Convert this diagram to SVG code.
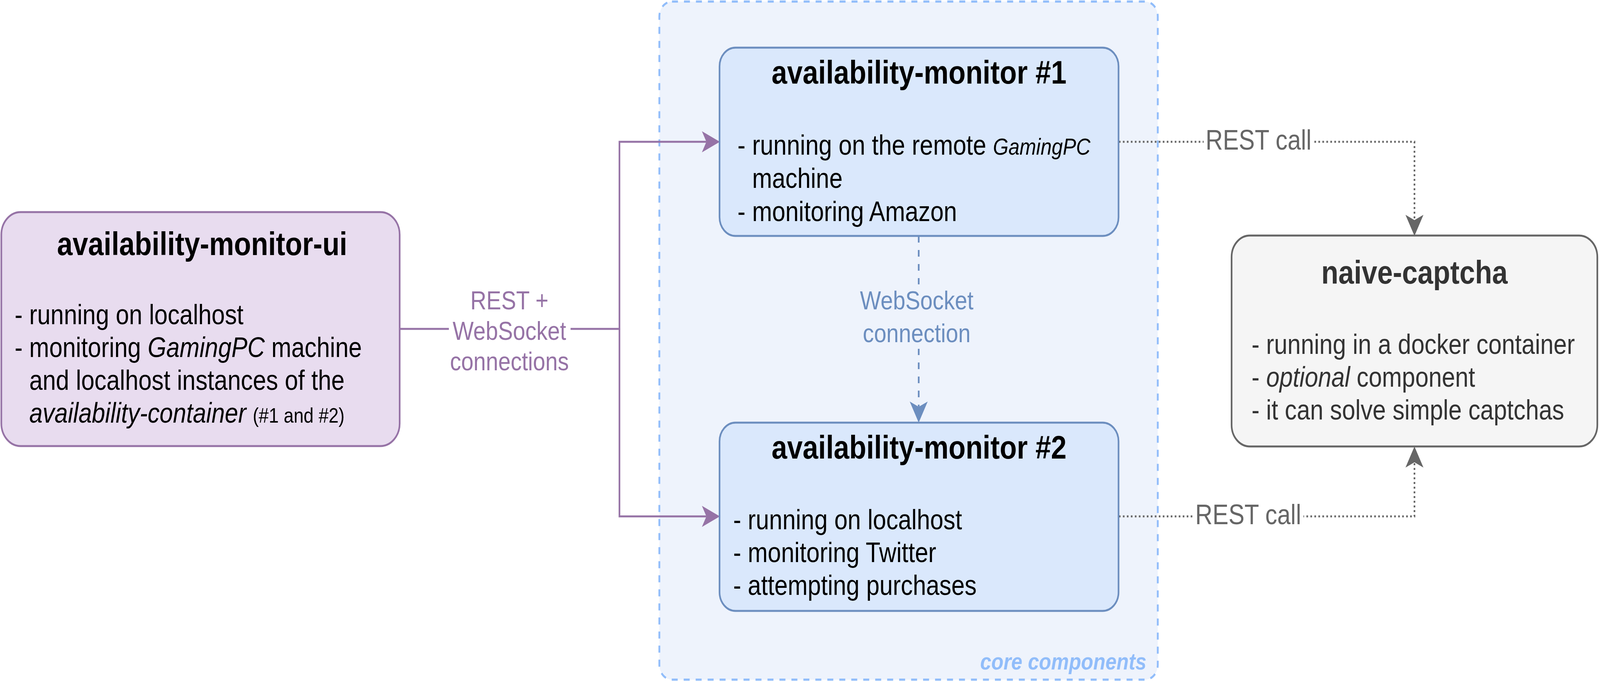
<svg xmlns="http://www.w3.org/2000/svg" width="4812" height="1746" viewBox="0 0 4812 1746" preserveAspectRatio="none" style="display:block;width:100vw;height:100vh">
<style>
text{font-family:"Liberation Sans",Arial,Helvetica,sans-serif}
.title{font-size:84px;font-weight:bold;text-anchor:middle}
.body{font-size:72px}
.it{font-style:italic}
.node-purple{fill:#E8DCEF;stroke:#9673A6;stroke-width:5}
.node-blue{fill:#DAE8FC;stroke:#6C8EBF;stroke-width:5}
.node-gray{fill:#F5F5F5;stroke:#666666;stroke-width:5}
.edge{fill:none;stroke-width:5;stroke-linejoin:miter}
.lbl{text-anchor:middle}
</style>
<defs>
<marker id="arrPurple" viewBox="0 0 54 54" refX="13.5" refY="27" markerWidth="54" markerHeight="54" markerUnits="userSpaceOnUse" orient="auto"><path d="M54,27 L0,54 L13.5,27 L0,0 Z" fill="#9673A6"/></marker>
<marker id="arrBlue" viewBox="0 0 54 54" refX="13.5" refY="27" markerWidth="54" markerHeight="54" markerUnits="userSpaceOnUse" orient="auto"><path d="M54,27 L0,54 L13.5,27 L0,0 Z" fill="#6C8EBF"/></marker>
<marker id="arrGray" viewBox="0 0 54 54" refX="13.5" refY="27" markerWidth="54" markerHeight="54" markerUnits="userSpaceOnUse" orient="auto"><path d="M54,27 L0,54 L13.5,27 L0,0 Z" fill="#666666"/></marker>
</defs>

<g id="core-components">
<rect x="1983" y="4" width="1499" height="1736" rx="38" ry="38" fill="#EEF3FC" stroke="#91BDFA" stroke-width="5.5" stroke-dasharray="18 18"/>
<text x="3448" y="1714" font-size="60" font-weight="bold" font-style="italic" fill="#91BDFA" text-anchor="end">core components</text>
</g>

<g id="connectors">
<path class="edge" d="M1203,842 H1863 V363 H2124.5" stroke="#9673A6" marker-end="url(#arrPurple)"/>
<path class="edge" d="M1863,842 V1322 H2124.5" stroke="#9673A6" marker-end="url(#arrPurple)"/>
<rect x="1350" y="745" width="366" height="225" fill="#FFFFFF"/>
<text class="lbl" font-size="67" fill="#9673A6"><tspan x="1532" y="792">REST +</tspan><tspan x="1532" y="870">WebSocket</tspan><tspan x="1532" y="948">connections</tspan></text>

<path class="edge" d="M2763,604 V1041.5" stroke="#6C8EBF" stroke-dasharray="17 19" marker-end="url(#arrBlue)"/>
<rect x="2588" y="728" width="345" height="165" fill="#EEF3FC"/>
<text class="lbl" font-size="67" fill="#6C8EBF"><tspan x="2757" y="792">WebSocket</tspan><tspan x="2757" y="876">connection</tspan></text>

<path class="edge" d="M3365,363 H4254 V563.5" stroke="#666666" stroke-dasharray="5 7" marker-end="url(#arrGray)"/>
<rect x="3620" y="318" width="330" height="85" fill="#FFFFFF"/>
<text class="lbl" x="3785" y="383" font-size="72" fill="#666666">REST call</text>

<path class="edge" d="M3365,1322 H4254 V1183.5" stroke="#666666" stroke-dasharray="5 7" marker-end="url(#arrGray)"/>
<rect x="3590" y="1278" width="330" height="85" fill="#FFFFFF"/>
<text class="lbl" x="3754" y="1342" font-size="72" fill="#666666">REST call</text>
</g>

<g id="availability-monitor-ui">
<rect class="node-purple" x="4" y="543" width="1198" height="599" rx="58" ry="58"/>
<text class="title" x="608" y="653" fill="#000000">availability-monitor-ui</text>
<text class="body" fill="#000000"><tspan x="44" y="830">- running on localhost</tspan><tspan x="44" y="914">- monitoring <tspan class="it">GamingPC</tspan> machine</tspan><tspan x="88" y="998">and localhost instances of the</tspan><tspan x="88" y="1082"><tspan class="it">availability-container</tspan> <tspan font-size="54">(#1 and #2)</tspan></tspan></text>
</g>

<g id="availability-monitor-1">
<rect class="node-blue" x="2164" y="122" width="1200" height="482" rx="48" ry="48"/>
<text class="title" x="2764" y="214" fill="#000000">availability-monitor #1</text>
<text class="body" fill="#000000"><tspan x="2218" y="396">- running on the remote <tspan class="it" font-size="60">GamingPC</tspan></tspan><tspan x="2262" y="481">machine</tspan><tspan x="2218" y="566">- monitoring Amazon</tspan></text>
</g>

<g id="availability-monitor-2">
<rect class="node-blue" x="2164" y="1082" width="1200" height="482" rx="48" ry="48"/>
<text class="title" x="2764" y="1174" fill="#000000">availability-monitor #2</text>
<text class="body" fill="#000000"><tspan x="2205" y="1355">- running on localhost</tspan><tspan x="2205" y="1439">- monitoring Twitter</tspan><tspan x="2205" y="1523">- attempting purchases</tspan></text>
</g>

<g id="naive-captcha">
<rect class="node-gray" x="3704" y="603" width="1100" height="540" rx="55" ry="55"/>
<text class="title" x="4254" y="726" fill="#333333">naive-captcha</text>
<text class="body" fill="#333333"><tspan x="3764" y="906">- running in a docker container</tspan><tspan x="3764" y="990">- <tspan class="it">optional</tspan> component</tspan><tspan x="3764" y="1074">- it can solve simple captchas</tspan></text>
</g>
</svg>
